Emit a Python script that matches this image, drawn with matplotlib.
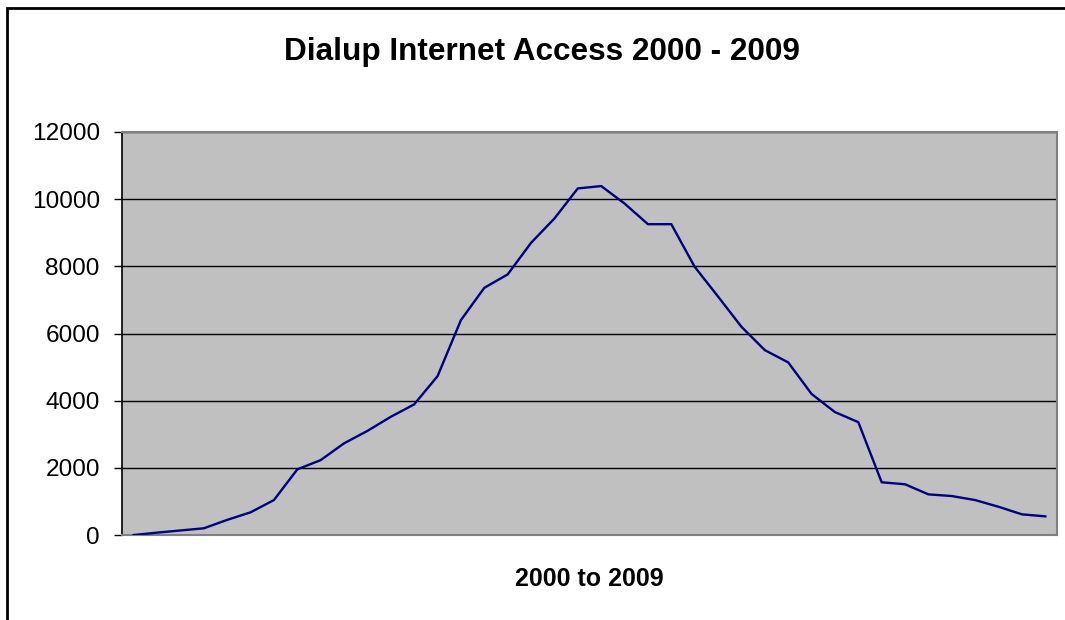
import matplotlib
matplotlib.use("Agg")
import matplotlib.pyplot as plt
from matplotlib.patches import Rectangle

title = "Dialup Internet Access 2000 - 2009"
xlabel = "2000 to 2009"
yticks = [0, 2000, 4000, 6000, 8000, 10000, 12000]
values = [0, 70, 135, 200, 450, 675, 1040, 1955, 2230, 2730,
          3100, 3520, 3890, 4730, 6400, 7360, 7760, 8700, 9425, 10320,
          10390, 9870, 9255, 9255, 7985, 7100, 6200, 5505, 5140, 4200,
          3660, 3360, 1570, 1510, 1210, 1160, 1040, 840, 615, 555]

plt.rcParams['font.family'] = ['Liberation Sans', 'DejaVu Sans']
fig = plt.figure(figsize=(10.65, 6.2), dpi=100)
ax = fig.add_axes([122/1065, 85/620, 935/1065, 403/620])
ax.set_facecolor('#C0C0C0')
x = list(range(len(values)))
ax.plot(x, values, color='#000080', lw=1.7, zorder=3)
ax.set_xlim(-0.5, len(values) - 0.5)
ax.set_ylim(0, 12000)
ax.set_yticks(yticks)
ax.set_yticklabels([str(v) for v in yticks], fontsize=17.6)
ax.set_xticks([])
ax.yaxis.grid(True, color='black', lw=1)
ax.set_axisbelow(True)
ax.tick_params(axis='y', length=6, width=1, color='black', pad=10)
for s in ['top', 'right', 'bottom']:
    ax.spines[s].set_color('#808080')
    ax.spines[s].set_linewidth(1.5)
ax.spines['left'].set_color('black')
ax.spines['left'].set_linewidth(1.2)
fig.text(589/1065, 1 - 579/620, xlabel, fontsize=18, fontweight='bold',
         ha='center', va='center')
fig.text(542/1065, 1 - 52/620, title, fontsize=22.7, fontweight='bold',
         ha='center', va='center')
fig.patches.append(Rectangle((7/1065, -0.1), 1.2, 1 - 8/620 + 0.1,
                             transform=fig.transFigure, fill=False,
                             edgecolor='black', lw=2))
fig.savefig('out.png', dpi=100)
